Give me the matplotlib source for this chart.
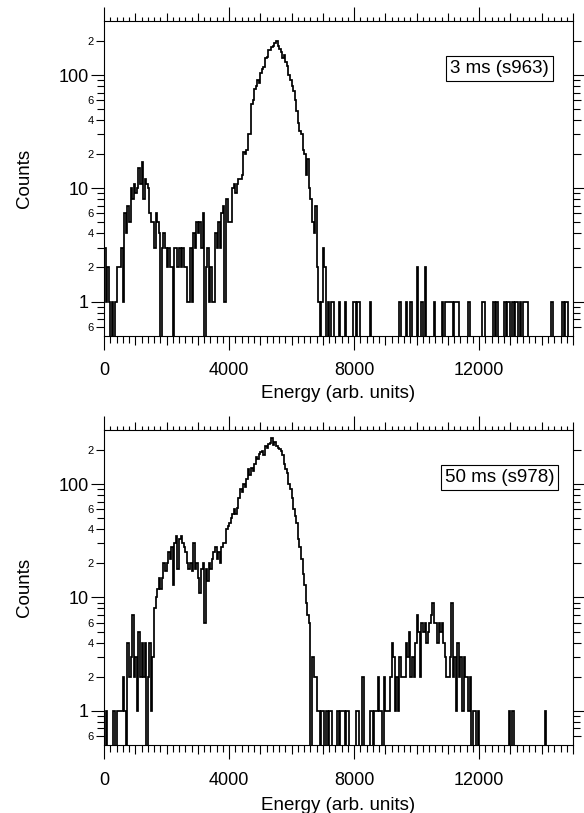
import numpy as np
import matplotlib
matplotlib.use("Agg")
import matplotlib.pyplot as plt
from matplotlib.ticker import FixedLocator, FuncFormatter

plt.rcParams['font.family'] = ['Liberation Sans', 'DejaVu Sans']

# energy histograms, 50-unit bins from 0 to 15000
bin_width = 50
s963_counts = [
    3, 1, 2, 1, 0, 1, 0, 1, 2, 2, 2, 3, 1, 6, 4, 7, 5, 10, 8, 11,
    9, 10, 15, 11, 17, 8, 12, 11, 10, 6, 5, 5, 3, 6, 5, 4, 0, 3, 4, 3,
    2, 3, 2, 2, 0, 3, 3, 2, 3, 2, 3, 2, 2, 1, 1, 3, 1, 4, 3, 5,
    4, 5, 3, 6, 0, 2, 3, 1, 2, 1, 1, 4, 3, 5, 3, 6, 7, 1, 8, 5,
    5, 5, 10, 11, 9, 11, 12, 12, 13, 21, 20, 22, 30, 30, 55, 60, 75, 80, 90, 85,
    105, 112, 118, 140, 145, 165, 168, 178, 182, 190, 200, 180, 170, 160, 140, 150, 130, 120, 100, 90,
    80, 72, 60, 48, 38, 32, 30, 22, 20, 13, 18, 10, 8, 5, 4, 7, 2, 1, 0, 1,
    3, 2, 0, 1, 0, 1, 1, 0, 0, 0, 1, 0, 0, 0, 1, 0, 0, 0, 0, 1,
    1, 0, 1, 1, 0, 0, 0, 0, 0, 0, 1, 0, 0, 0, 0, 0, 0, 0, 0, 0,
    0, 0, 0, 0, 0, 0, 0, 0, 0, 1, 0, 0, 0, 1, 0, 0, 1, 0, 0, 0,
    2, 0, 0, 1, 0, 2, 0, 0, 0, 0, 0, 1, 0, 0, 0, 0, 1, 0, 1, 1,
    1, 1, 1, 0, 1, 1, 1, 0, 0, 0, 0, 0, 0, 1, 0, 0, 0, 0, 0, 0,
    0, 0, 1, 1, 0, 0, 0, 0, 0, 1, 0, 1, 0, 0, 0, 0, 1, 0, 1, 1,
    0, 1, 0, 1, 1, 0, 1, 0, 1, 1, 1, 0, 0, 0, 0, 0, 0, 0, 0, 0,
    0, 0, 0, 0, 0, 0, 1, 0, 0, 0, 0, 0, 0, 1, 0, 1, 1, 0, 0, 0,
]
s978_counts = [
    0, 1, 0, 0, 0, 0, 1, 0, 1, 1, 1, 1, 2, 1, 0, 4, 2, 3, 7, 2,
    3, 1, 5, 2, 4, 2, 4, 0, 2, 4, 1, 3, 8, 10, 12, 15, 12, 15, 20, 17,
    20, 25, 22, 28, 13, 30, 35, 18, 33, 35, 30, 28, 25, 20, 18, 20, 17, 30, 18, 20,
    15, 11, 18, 20, 6, 18, 14, 20, 18, 22, 25, 28, 22, 25, 20, 28, 30, 30, 40, 43,
    45, 50, 55, 60, 55, 62, 75, 90, 85, 100, 95, 110, 135, 120, 140, 130, 150, 175, 165, 185,
    190, 195, 180, 215, 210, 225, 230, 255, 220, 235, 215, 210, 205, 195, 180, 150, 135, 125, 100, 90,
    75, 60, 52, 45, 33, 28, 22, 16, 13, 9, 7, 6, 0, 3, 2, 2, 1, 1, 0, 1,
    1, 0, 1, 0, 1, 1, 0, 0, 0, 1, 0, 1, 1, 1, 0, 1, 1, 0, 0, 0,
    0, 1, 1, 0, 0, 2, 0, 0, 0, 0, 1, 1, 0, 1, 1, 2, 1, 1, 0, 2,
    1, 1, 1, 2, 4, 3, 1, 2, 1, 3, 2, 2, 2, 4, 3, 5, 2, 3, 2, 4,
    7, 5, 2, 6, 5, 6, 4, 5, 6, 7, 9, 6, 6, 4, 6, 5, 6, 4, 3, 2,
    2, 3, 9, 2, 3, 1, 4, 2, 3, 1, 3, 2, 2, 1, 2, 0, 1, 1, 0, 1,
    0, 0, 0, 0, 0, 0, 0, 0, 0, 0, 0, 0, 0, 0, 0, 0, 0, 0, 0, 1,
    0, 1, 0, 0, 0, 0, 0, 0, 0, 0, 0, 0, 0, 0, 0, 0, 0, 0, 0, 0,
    0, 0, 1, 0, 0, 0, 0, 0, 0, 0, 0, 0, 0, 0, 0, 0, 0, 0, 0, 0,
]
run_labels = ['3 ms (s963)', '50 ms (s978)']

x_major = np.arange(0, 15001, 1000)
x_minor = [v for v in range(0, 15001, 200) if v % 1000]
y_major = [1, 10, 100]
y_minor = [0.6, 0.7, 0.8, 0.9] + list(range(2, 10)) + list(range(20, 100, 10)) + [200]


def x_fmt(v, pos):
    return f'{int(v)}' if v % 4000 == 0 else ''


def y_minor_fmt(v, pos):
    if v <= 0:
        return ''
    digit = int(round(v / 10 ** np.floor(np.log10(v))))
    return str(digit) if digit in (2, 4, 6) else ''


def draw_panel(ax, counts, label, xlabel_y):
    edges = np.arange(len(counts) + 1) * bin_width
    ax.set_yscale('log', nonpositive='clip')
    ax.stairs(counts, edges, baseline=None, color='black', lw=1.25)
    ax.set_xlim(0, 15000)
    ax.set_ylim(0.5, 300)

    ax.xaxis.set_major_locator(FixedLocator(x_major))
    ax.xaxis.set_minor_locator(FixedLocator(x_minor))
    ax.xaxis.set_major_formatter(FuncFormatter(x_fmt))
    ax.yaxis.set_major_locator(FixedLocator(y_major))
    ax.yaxis.set_minor_locator(FixedLocator(y_minor))
    ax.yaxis.set_major_formatter(FuncFormatter(lambda v, p: f'{v:g}'))
    ax.yaxis.set_minor_formatter(FuncFormatter(y_minor_fmt))

    ax.tick_params(which='both', direction='out', top=True, right=True, width=0.8)
    ax.tick_params(axis='x', which='major', length=9.9, pad=9.4, labelsize=13)
    ax.tick_params(axis='x', which='minor', length=5)
    ax.tick_params(axis='y', which='major', length=9.6, pad=1.5, labelsize=13)
    ax.tick_params(axis='y', which='minor', length=6, pad=1.5, labelsize=8)

    for sp in ax.spines.values():
        sp.set_linewidth(0.8)

    # bottom/top: 1000-unit ticks shorter than the labelled 4000-unit ones
    for t, v in zip(ax.xaxis.get_major_ticks(len(x_major)), x_major):
        if v % 4000:
            t.tick1line.set_markersize(6.8)
            t.tick2line.set_markersize(5.8)
    for t in ax.xaxis.get_minor_ticks(len(x_minor)):
        t.tick2line.set_markersize(3)
    # right side ticks are a bit shorter; unlabelled subdivisions shortest
    for t in ax.yaxis.get_major_ticks(len(y_major)):
        t.tick2line.set_markersize(7.7)
    for t, v in zip(ax.yaxis.get_minor_ticks(len(y_minor)), y_minor):
        if y_minor_fmt(v, None) == '':
            t.tick1line.set_markersize(4.8)
            t.tick2line.set_markersize(4.8)
        else:
            t.tick2line.set_markersize(5.8)

    ax.set_xlabel('Energy (arb. units)', fontsize=13.5)
    ax.set_ylabel('Counts', fontsize=13.5)
    ax.xaxis.set_label_coords(0.5, xlabel_y)
    ax.yaxis.set_label_coords(-0.152, 0.5)

    ax.text(0.843, 0.849, label, transform=ax.transAxes, ha='center', va='center',
            fontsize=13.5,
            bbox=dict(boxstyle='square,pad=0.2', fc='white', ec='black', lw=0.8))


fig = plt.figure(figsize=(5.84, 8.13), dpi=100)
ax_top = fig.add_axes([0.1781, 0.5871, 0.8031, 0.3871])
ax_bot = fig.add_axes([0.1781, 0.0836, 0.8031, 0.3875])

draw_panel(ax_top, s963_counts, run_labels[0], -0.157)
draw_panel(ax_bot, s978_counts, run_labels[1], -0.166)

fig.savefig('out.png', dpi=100)
